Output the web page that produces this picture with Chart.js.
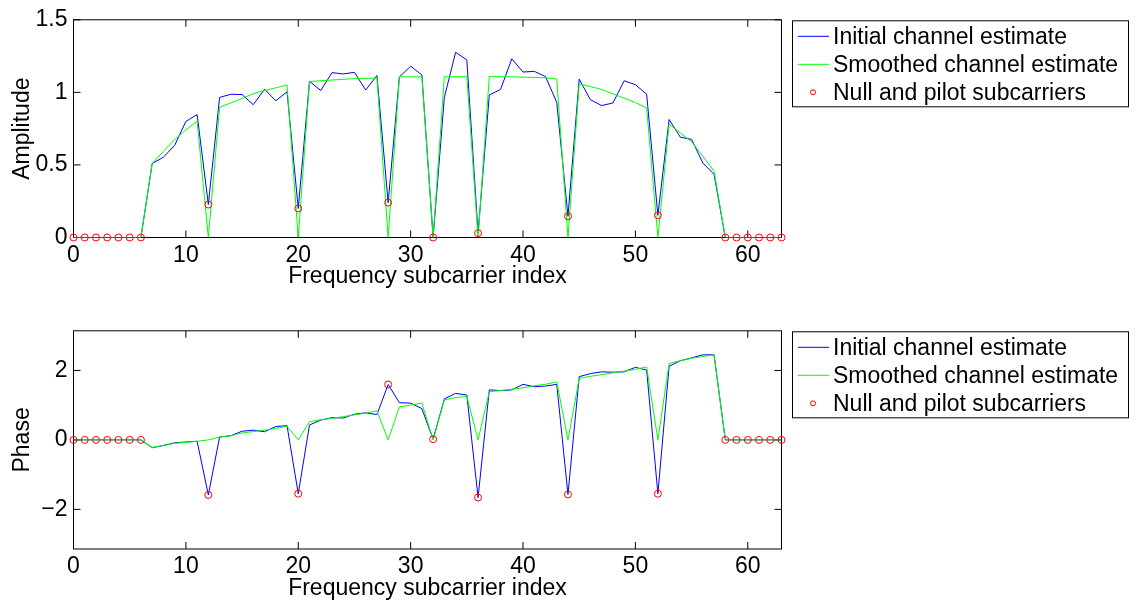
<!DOCTYPE html>
<html>
<head>
<meta charset="utf-8">
<script src="https://cdn.jsdelivr.net/npm/chart.js@4.4.1/dist/chart.umd.min.js"></script>
<style>
  html, body { margin: 0; padding: 0; background: #fff; }
  #wrap { position: relative; width: 1140px; height: 602px; }
  canvas { position: absolute; left: 0; }
</style>
</head>
<body>
<div id="wrap">
  <canvas id="ampChart" width="1140" height="311" style="top:0"></canvas>
  <canvas id="phaseChart" width="1140" height="291" style="top:311px"></canvas>
</div>
<script>
// --- Data ---
const subcarriers = [0, 1, 2, 3, 4, 5, 6, 7, 8, 9, 10, 11, 12, 13, 14, 15, 16, 17, 18, 19, 20,
    21, 22, 23, 24, 25, 26, 27, 28, 29, 30, 31, 32, 33, 34, 35, 36, 37, 38, 39, 40, 41, 42,
    43, 44, 45, 46, 47, 48, 49, 50, 51, 52, 53, 54, 55, 56, 57, 58, 59, 60, 61, 62, 63];
const nullPilotIdx = [0, 1, 2, 3, 4, 5, 6, 12, 20, 28, 32, 36, 44, 52, 58, 59, 60, 61, 62, 63];

const ampInitial = [0, 0, 0, 0, 0, 0, 0, 0.51, 0.553, 0.635, 0.80, 0.847, 0.227, 0.965, 0.987,
    0.985, 0.915, 1.022, 0.942, 1.004, 0.20, 1.076, 1.013, 1.136, 1.127, 1.138, 1.016, 1.116,
    0.24, 1.107, 1.18, 1.12, 0.0, 0.965, 1.276, 1.224, 0.03, 0.982, 1.02, 1.231, 1.14, 1.145,
    1.109, 0.931, 0.147, 1.091, 0.949, 0.909, 0.927, 1.08, 1.053, 0.987, 0.153, 0.813, 0.691,
    0.676, 0.513, 0.435, 0, 0, 0, 0, 0, 0];
const ampSmoothed = [0, 0, 0, 0, 0, 0, 0, 0.51, 0.593, 0.675, 0.742, 0.80, 0, 0.898, 0.927,
    0.958, 0.991, 1.013, 1.031, 1.051, 0, 1.075, 1.08, 1.085, 1.09, 1.095, 1.097, 1.098,
    0, 1.107, 1.107, 1.107, 0, 1.108, 1.108, 1.108, 0, 1.109, 1.108, 1.107, 1.105, 1.103,
    1.1, 1.092, 0, 1.058, 1.04, 1.02, 0.99, 0.96, 0.93, 0.893, 0, 0.782, 0.72,
    0.66, 0.56, 0.458, 0, 0, 0, 0, 0, 0];

const phaseInitial = [0, 0, 0, 0, 0, 0, 0, -0.225, -0.16, -0.085, -0.06, -0.04, -1.586, 0.085, 0.12,
    0.25, 0.28, 0.235, 0.385, 0.41, -1.549, 0.43, 0.57, 0.64, 0.63, 0.74, 0.78, 0.73,
    1.596, 1.07, 1.06, 0.9, 0.02, 1.18, 1.34, 1.29, -1.66, 1.44, 1.42, 1.44, 1.6, 1.53,
    1.55, 1.6, -1.57, 1.82, 1.91, 1.96, 1.95, 1.96, 2.09, 2.01, -1.55, 2.12, 2.28,
    2.36, 2.45, 2.45, 0, 0, 0, 0, 0, 0];
const phaseSmoothed = [0, 0, 0, 0, 0, 0, 0, -0.22, -0.16, -0.1, -0.07, -0.04, 0, 0.08, 0.12,
    0.2, 0.24, 0.28, 0.33, 0.39, 0, 0.525, 0.58, 0.62, 0.67, 0.72, 0.77, 0.835,
    0, 0.95, 1.0, 1.06, 0, 1.15, 1.22, 1.25, 0, 1.39, 1.42, 1.46, 1.5, 1.56,
    1.6, 1.67, 0, 1.77, 1.83, 1.88, 1.93, 1.98, 2.03, 2.1, 0, 2.2, 2.28,
    2.35, 2.4, 2.45, 0, 0, 0, 0, 0, 0];

const xTicks = [0, 10, 20, 30, 40, 50, 60];
const ampTicks = [0, 0.5, 1, 1.5];
const phaseTicks = [-2, 0, 2];
const seriesLabels = ['Initial channel estimate', 'Smoothed channel estimate', 'Null and pilot subcarriers'];

// --- Styling ---
const FONT = "'Liberation Sans', Arial, Helvetica, sans-serif";
const FONT_SIZE = 23;

const toXY = vals => subcarriers.map((x, i) => ({ x, y: vals[i] }));
const pickNull = vals => nullPilotIdx.map(i => ({ x: subcarriers[i], y: vals[i] }));
const fmt = v => v < 0 ? '\u2212' + Math.abs(v) : String(v);

// box, inward ticks and legend like a MATLAB axes
const matlabAxes = {
    id: 'matlabAxes',
    beforeDatasetsDraw(chart) {
        const { ctx, chartArea: a, scales: { x, y } } = chart;
        ctx.save();
        ctx.strokeStyle = '#000';
        ctx.lineWidth = 1;
        ctx.beginPath();
        x.ticks.forEach(t => {
            const px = x.getPixelForValue(t.value);
            ctx.moveTo(px, a.bottom); ctx.lineTo(px, a.bottom - 7);
            ctx.moveTo(px, a.top); ctx.lineTo(px, a.top + 7);
        });
        y.ticks.forEach(t => {
            const py = y.getPixelForValue(t.value);
            ctx.moveTo(a.left, py); ctx.lineTo(a.left + 7, py);
            ctx.moveTo(a.right, py); ctx.lineTo(a.right - 7, py);
        });
        ctx.stroke();
        ctx.strokeRect(a.left, a.top, a.right - a.left, a.bottom - a.top);
        ctx.restore();
    },
    afterDraw(chart) {
        const { ctx, chartArea: a } = chart;
        const bx = 792.5, by = a.top + 1, bw = 336, bh = 86;
        ctx.save();
        ctx.fillStyle = '#fff';
        ctx.fillRect(bx, by, bw, bh);
        ctx.strokeStyle = '#000';
        ctx.lineWidth = 1;
        ctx.strokeRect(bx, by, bw, bh);
        ctx.font = FONT_SIZE + 'px ' + FONT;
        ctx.textBaseline = 'middle';
        ctx.fillStyle = '#000';
        chart.data.datasets.forEach((ds, i) => {
            const ry = by + 15.5 + i * 28;
            if (ds.showLine === false) {
                ctx.beginPath();
                ctx.arc(813, ry, 2.5, 0, Math.PI * 2);
                ctx.strokeStyle = ds.borderColor;
                ctx.stroke();
            } else {
                ctx.beginPath();
                ctx.moveTo(798, ry); ctx.lineTo(829, ry);
                ctx.strokeStyle = ds.borderColor;
                ctx.stroke();
            }
            ctx.fillText(ds.label, 833, ry + 1);
        });
        ctx.restore();
    }
};

function makeChart(canvasId, initial, smoothed, yLabel, yMin, yMax, yTicks, bottomPad) {
    const ctx = document.getElementById(canvasId).getContext('2d');
    return new Chart(ctx, {
        type: 'line',
        data: {
            datasets: [
                {
                    label: seriesLabels[0],
                    data: toXY(initial),
                    borderColor: '#0000ff',
                    borderWidth: 1,
                    pointRadius: 0,
                    tension: 0,
                    order: 2
                },
                {
                    label: seriesLabels[1],
                    data: toXY(smoothed),
                    borderColor: '#00ff00',
                    borderWidth: 1,
                    pointRadius: 0,
                    tension: 0,
                    order: 1
                },
                {
                    label: seriesLabels[2],
                    type: 'scatter',
                    data: pickNull(initial),
                    showLine: false,
                    borderColor: '#ff0000',
                    backgroundColor: 'rgba(0,0,0,0)',
                    borderWidth: 1,
                    pointRadius: 3.5,
                    clip: false,
                    order: 0
                }
            ]
        },
        options: {
            responsive: false,
            animation: false,
            devicePixelRatio: 1,
            layout: { padding: { left: 0, top: 13, right: 358.5, bottom: bottomPad } },
            plugins: { legend: { display: false }, tooltip: { enabled: false } },
            scales: {
                x: {
                    type: 'linear',
                    min: 0,
                    max: 63,
                    grid: { display: false, drawTicks: false },
                    border: { display: false },
                    afterBuildTicks: s => { s.ticks = xTicks.map(v => ({ value: v })); },
                    afterFit: s => { s.height = 53; },
                    ticks: {
                        padding: 4,
                        color: '#000',
                        maxRotation: 0,
                        font: { family: FONT, size: FONT_SIZE },
                        callback: v => fmt(v)
                    },
                    title: {
                        display: true,
                        text: 'Frequency subcarrier index',
                        color: '#000',
                        padding: { top: 0, bottom: 0 },
                        font: { family: FONT, size: FONT_SIZE }
                    }
                },
                y: {
                    type: 'linear',
                    min: yMin,
                    max: yMax,
                    grid: { display: false, drawTicks: false },
                    border: { display: false },
                    afterBuildTicks: s => { s.ticks = yTicks.map(v => ({ value: v })); },
                    afterFit: s => { s.width = 73.5; },
                    ticks: {
                        padding: 6,
                        color: '#000',
                        font: { family: FONT, size: FONT_SIZE },
                        callback: v => fmt(v)
                    },
                    title: {
                        display: true,
                        text: yLabel,
                        color: '#000',
                        padding: { top: 9, bottom: 0 },
                        font: { family: FONT, size: FONT_SIZE }
                    }
                }
            }
        },
        plugins: [matlabAxes]
    });
}

makeChart('ampChart', ampInitial, ampSmoothed, 'Amplitude', 0, 1.5, ampTicks, 20.5);
makeChart('phaseChart', phaseInitial, phaseSmoothed, 'Phase', -Math.PI, Math.PI, phaseTicks, 0);
</script>
</body>
</html>
